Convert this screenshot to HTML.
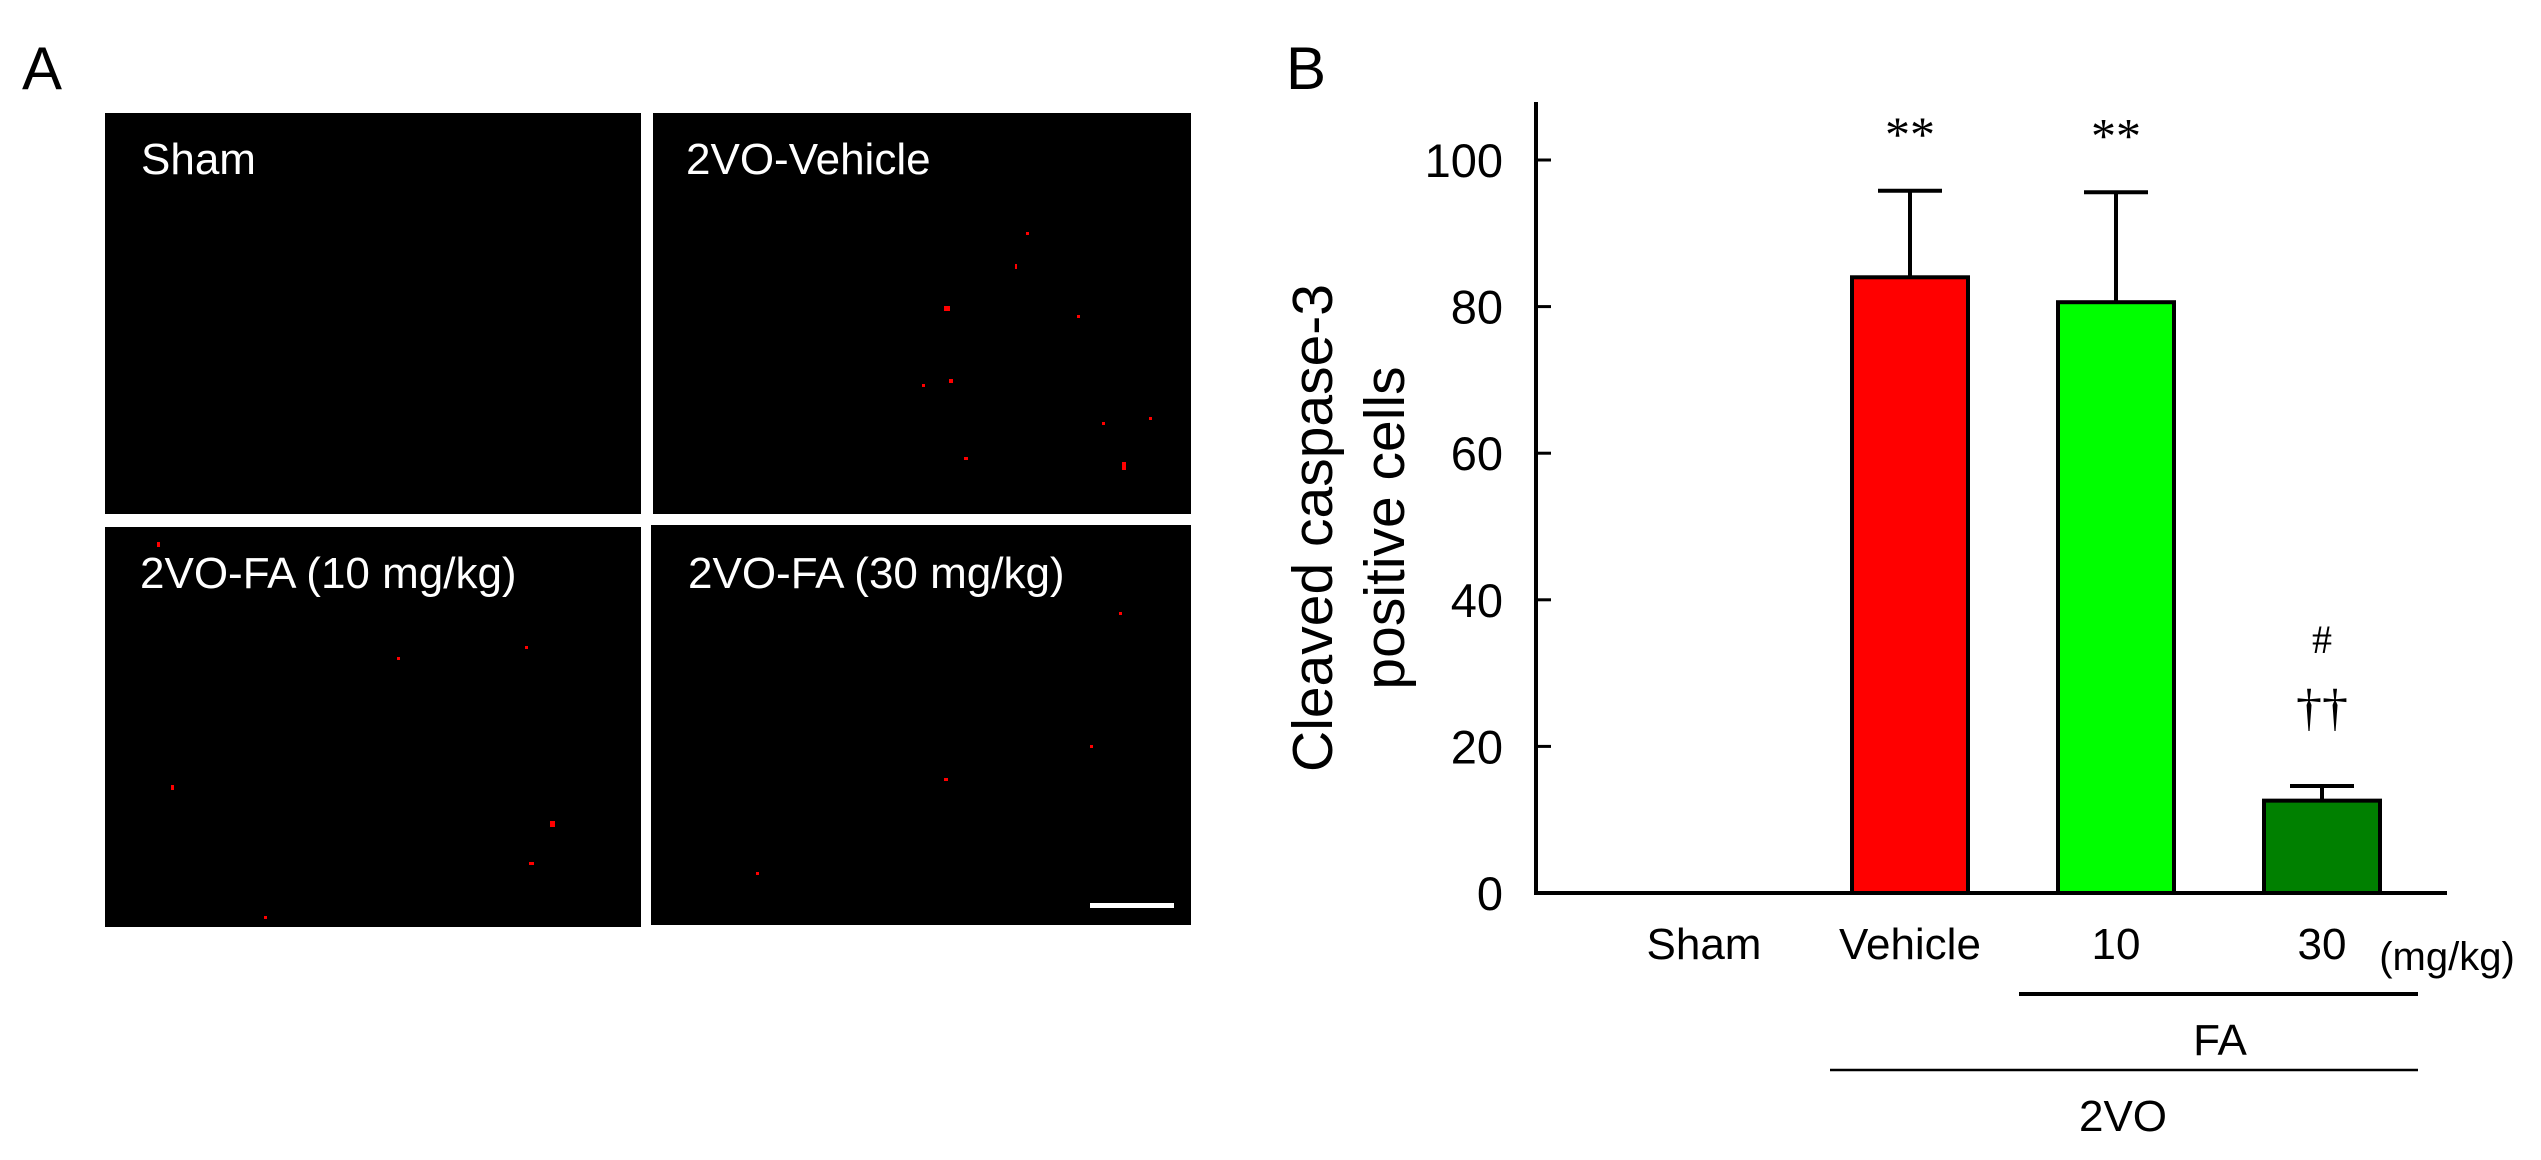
<!DOCTYPE html>
<html><head><meta charset="utf-8"><style>
html,body{margin:0;padding:0;background:#fff;overflow:hidden;}
svg{display:block;font-family:"Liberation Sans",Arial,sans-serif;}
</style></head><body>
<svg id="fig" width="2541" height="1160" viewBox="0 0 2541 1160">
  <text x="22" y="89" font-size="60">A</text>
  <g>
    <rect x="105" y="113" width="536" height="401" fill="#000"/>
    <rect x="653" y="113" width="538" height="401" fill="#000"/>
    <rect x="105" y="527" width="536" height="400" fill="#000"/>
    <rect x="651" y="525" width="540" height="400" fill="#000"/>
    <text x="141" y="174" font-size="44" fill="#fff">Sham</text>
    <text x="686" y="174" font-size="44" fill="#fff">2VO-Vehicle</text>
    <text x="140" y="588" font-size="44" fill="#fff">2VO-FA (10 mg/kg)</text>
    <text x="688" y="588" font-size="44" fill="#fff">2VO-FA (30 mg/kg)</text>
    <rect x="1090" y="903" width="84" height="5" fill="#fff"/>
    <g fill="#f00">
      <rect x="944" y="306" width="6" height="5"/><rect x="949" y="379" width="4" height="4"/><rect x="922" y="384" width="3" height="3"/>
      <rect x="1122" y="462" width="4" height="8"/><rect x="1026" y="232" width="3" height="3"/><rect x="964" y="457" width="4" height="3"/>
      <rect x="1102" y="422" width="3" height="3"/><rect x="1149" y="417" width="3" height="3"/><rect x="1077" y="315" width="3" height="3"/>
      <rect x="1015" y="264" width="2" height="5"/>
      <rect x="550" y="821" width="5" height="6"/><rect x="529" y="862" width="5" height="3"/><rect x="171" y="785" width="3" height="5"/>
      <rect x="157" y="542" width="3" height="5"/><rect x="264" y="916" width="3" height="3"/><rect x="525" y="646" width="3" height="3"/>
      <rect x="397" y="657" width="3" height="3"/>
      <rect x="944" y="778" width="4" height="3"/><rect x="1119" y="612" width="3" height="3"/><rect x="756" y="872" width="3" height="3"/>
      <rect x="1090" y="745" width="3" height="3"/>
    </g>
  </g>
  <text x="1286" y="89" font-size="60">B</text>
  <g id="chart"></g>
</svg>
<script>
const categories = ["Sham", "Vehicle", "10", "30"];
const values = [0, 84, 80.6, 12.6];
const errors = [0, 11.8, 15.0, 2.0];
const barColors = ["#fff", "#ff0000", "#00ff00", "#008000"];
const yTicks = [0, 20, 40, 60, 80, 100];
const sigTop = ["", "**", "**", "#"];
const sigSecond = ["", "", "", "††"];

const NS = "http://www.w3.org/2000/svg";
const g = document.getElementById("chart");
const x0 = 1536, y0 = 893, xEnd = 2447, yTop = 102;
const yScale = v => y0 - v * (y0 - 160) / 100;
const xCenter = i => 1704 + i * 206;
const barW = 116;
function mk(tag, attrs, text) {
  const e = document.createElementNS(NS, tag);
  for (const k in attrs) e.setAttribute(k, attrs[k]);
  if (text !== undefined) e.textContent = text;
  g.appendChild(e);
  return e;
}
let el;
el = mk("line", {x1: x0, y1: yTop, x2: x0, y2: y0 + 2, stroke: "#000", "stroke-width": 4});


el = mk("line", {x1: x0 - 2, y1: y0, x2: xEnd, y2: y0, stroke: "#000", "stroke-width": 4});


yTicks.forEach(t => {
  const y = yScale(t);
  el = mk("line", {x1: x0, y1: y, x2: x0 + 15, y2: y, stroke: "#000", "stroke-width": 3});
  
  
  el = mk("text", {x: 1503, y: y + 17, "font-size": 47, "text-anchor": "end"}, String(t));
  
  
});
categories.forEach((c, i) => {
  const cx = xCenter(i);
  if (values[i] > 0) {
    const yv = yScale(values[i]), ye = yScale(values[i] + errors[i]);
    el = mk("line", {x1: cx, y1: yv, x2: cx, y2: ye, stroke: "#000", "stroke-width": 4});
    
    
    el = mk("line", {x1: cx - 32, y1: ye, x2: cx + 32, y2: ye, stroke: "#000", "stroke-width": 4});
    
    
    el = mk("rect", {x: cx - barW / 2, y: yv, width: barW, height: y0 - yv, fill: barColors[i], stroke: "#000", "stroke-width": 4});
    
    
  }
  el = mk("text", {x: cx, y: 959, "font-size": 44, "text-anchor": "middle"}, c);
  
  
  if (sigTop[i]) {
    const ye = yScale(values[i] + errors[i]);
    let yy;
    if (sigSecond[i]) yy = ye - 133; else yy = ye - 40;
    el = mk("text", {x: cx, y: yy, "font-size": sigSecond[i] ? 40 : 50, "font-family": "Liberation Serif, serif", "text-anchor": "middle"}, sigTop[i]);
    
    
  }
  if (sigSecond[i]) {
    const ye = yScale(values[i] + errors[i]);
    el = mk("text", {x: cx, y: ye - 61, "font-size": 52, "font-family": "Liberation Serif, serif", "text-anchor": "middle"}, sigSecond[i]);
    
    
  }
});
el = mk("text", {x: 2447, y: 970, "font-size": 40, "text-anchor": "middle"}, "(mg/kg)");


el = mk("line", {x1: 2019, y1: 994, x2: 2418, y2: 994, stroke: "#000", "stroke-width": 4});


el = mk("text", {x: 2220, y: 1055, "font-size": 44, "text-anchor": "middle"}, "FA");


el = mk("line", {x1: 1830, y1: 1070, x2: 2418, y2: 1070, stroke: "#000", "stroke-width": 2.5});


el = mk("text", {x: 2123, y: 1131, "font-size": 44, "text-anchor": "middle"}, "2VO");


el = mk("text", {x: 0, y: 0, "font-size": 57, "text-anchor": "middle", transform: "translate(1332,528) rotate(-90)"}, "Cleaved caspase-3");


el = mk("text", {x: 0, y: 0, "font-size": 57, "text-anchor": "middle", transform: "translate(1404,528) rotate(-90)"}, "positive cells");


</script>
</body></html>
